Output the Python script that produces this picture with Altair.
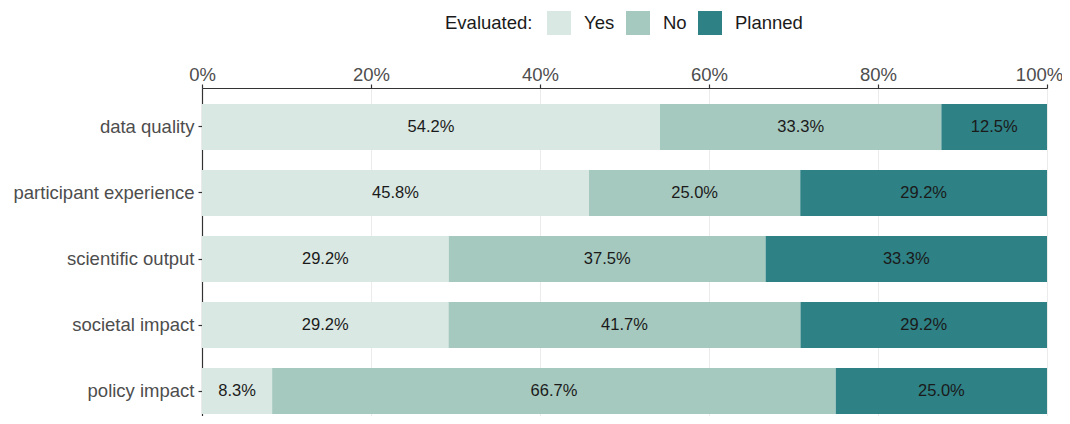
import altair as alt
import pandas as pd

categories = ["data quality", "participant experience", "scientific output", "societal impact", "policy impact"]
yes_vals = [54.2, 45.8, 29.2, 29.2, 8.3]
no_vals = [33.3, 25.0, 37.5, 41.7, 66.7]
planned_vals = [12.5, 29.2, 33.3, 29.2, 25.0]
statuses = ["Yes", "No", "Planned"]
colors = ["#d9e8e3", "#a6c9bf", "#2e8185"]
x_ticks = [0, 0.2, 0.4, 0.6, 0.8, 1.0]

rows = []
for i, c in enumerate(categories):
    for j, (s, vals) in enumerate(zip(statuses, [yes_vals, no_vals, planned_vals])):
        rows.append({"cat": c, "status": s, "value": vals[i], "ord": j})
df = pd.DataFrame(rows)

FONT = "Liberation Sans"

base = alt.Chart(df).transform_stack(
    stack="value", groupby=["cat"], as_=["v0", "v1"], offset="normalize",
    sort=[alt.SortField("ord", order="ascending")]
).transform_calculate(
    mid="(datum.v0 + datum.v1) / 2",
    label="format(datum.value, '.1f') + '%'"
)

yenc = alt.Y("cat:N", sort=categories, title=None,
             scale=alt.Scale(range=[0, 342], paddingInner=0.303, paddingOuter=0.2424),
             axis=alt.Axis(labelFontSize=18.5, labelColor="#4d4d4d", labelFont=FONT,
                           domainColor="#333333", domainWidth=1.2, tickColor="#333333",
                           tickSize=4, tickWidth=1.2, labelPadding=4, grid=False,
                           labelLimit=400))

bars = base.mark_bar().encode(
    x=alt.X("v0:Q", title=None,
            scale=alt.Scale(domain=[0, 1], nice=False),
            axis=alt.Axis(orient="top", values=x_ticks, format=".0%", labelFontSize=18.5,
                          labelColor="#4d4d4d", labelFont=FONT, domainColor="#333333",
                          domainWidth=1.2, tickColor="#333333", tickSize=4, tickWidth=1.2,
                          labelPadding=0, grid=True, gridColor="#ebebeb", gridWidth=1,
                          labelFlush=False,
                          labelOffset={"condition": {"test": "datum.value == 1", "value": -8},
                                       "value": 0})),
    x2="v1:Q",
    y=yenc,
    color=alt.Color("status:N", sort=statuses,
                    scale=alt.Scale(domain=statuses, range=colors),
                    legend=alt.Legend(title="Evaluated:", orient="none", direction="horizontal",
                                      legendX=243, legendY=-77, titleOrient="left",
                                      titleFontSize=18.5, titleFontWeight="normal",
                                      titleColor="#1a1a1a", titleFont=FONT, titlePadding=14,
                                      titleBaseline="middle",
                                      labelFontSize=18.5, labelColor="#1a1a1a", labelFont=FONT,
                                      labelOffset=13, columnPadding=11,
                                      symbolType="square", symbolSize=576,
                                      symbolStrokeWidth=0, symbolOpacity=1)),
    order=alt.Order("ord:Q")
)

texts = base.mark_text(fontSize=16.5, font=FONT, color="#1a1a1a").encode(
    x=alt.X("mid:Q"),
    y=alt.Y("cat:N", sort=categories),
    text="label:N"
)

chart = alt.layer(bars, texts).properties(
    width=845, height=328,
    autosize=alt.AutoSizeParams(type="none"),
    padding={"left": 194, "top": 80, "right": 15, "bottom": 0}
).configure_view(stroke=None).configure(background="white")

chart.save("out.html", embed_options={"renderer": "svg", "actions": False})
